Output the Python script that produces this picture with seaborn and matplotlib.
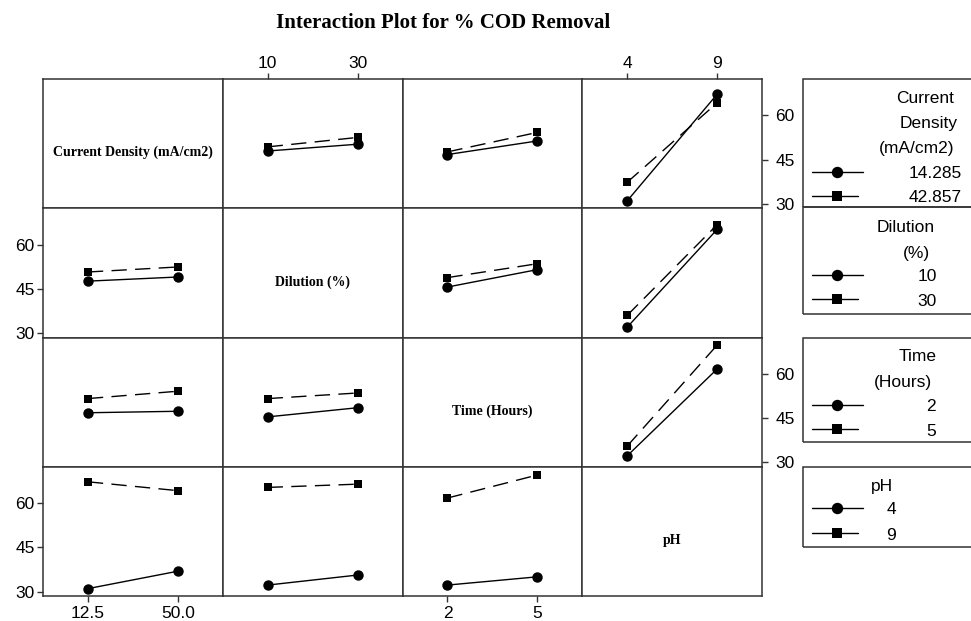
import numpy as np
import pandas as pd
import matplotlib
matplotlib.use("Agg")
import matplotlib.pyplot as plt
import seaborn as sns
from matplotlib.lines import Line2D
from matplotlib.patches import Rectangle

# ---------------- data ----------------
factor_names = ["Current Density (mA/cm2)", "Dilution (%)", "Time (Hours)", "pH"]
legend_titles = [["Current", "Density", "(mA/cm2)"], ["Dilution", "(%)"], ["Time", "(Hours)"], ["pH"]]
level_labels = [["14.285", "42.857"], ["10", "30"], ["2", "5"], ["4", "9"]]
axis_tick_labels = [["12.5", "50.0"], ["10", "30"], ["2", "5"], ["4", "9"]]

# mean % COD removal: rows = trace factor level, columns = x factor level
cd_by_dil = [[47.9, 50.2], [49.3, 52.5]]
cd_by_time = [[46.7, 51.3], [47.6, 54.2]]
cd_by_ph = [[31.0, 67.1], [37.3, 64.2]]
dil_by_cd = [[47.6, 49.0], [50.7, 52.4]]
dil_by_time = [[45.6, 51.5], [48.8, 53.5]]
dil_by_ph = [[32.0, 65.1], [36.0, 66.7]]
time_by_cd = [[46.8, 47.3], [51.6, 54.1]]
time_by_dil = [[45.4, 48.5], [51.6, 53.5]]
time_by_ph = [[32.2, 61.6], [35.5, 69.7]]
ph_by_cd = [[31.0, 36.9], [67.2, 64.2]]
ph_by_dil = [[32.2, 35.6], [65.3, 66.4]]
ph_by_time = [[32.2, 35.0], [61.7, 69.5]]

y_ticks = [30, 45, 60]

panel_means = {
    (0, 1): cd_by_dil, (0, 2): cd_by_time, (0, 3): cd_by_ph,
    (1, 0): dil_by_cd, (1, 2): dil_by_time, (1, 3): dil_by_ph,
    (2, 0): time_by_cd, (2, 1): time_by_dil, (2, 3): time_by_ph,
    (3, 0): ph_by_cd, (3, 1): ph_by_dil, (3, 2): ph_by_time,
}

# ---------------- style ----------------
sns.set_theme(style="white")
plt.rcParams["font.family"] = ["Liberation Sans", "DejaVu Sans"]
SERIF = ["Liberation Serif", "DejaVu Serif"]
FRAME = "#333333"
TXT = 12.5
DASH = (0, (11, 6))

W, H = 971, 621
fig = plt.figure(figsize=(W / 100, H / 100), dpi=100)


def fx(x):
    return x / W


def fy(y):
    return 1 - y / H


gs = fig.add_gridspec(4, 4, left=fx(43), right=fx(762), top=fy(79), bottom=fy(596),
                      wspace=0, hspace=0)

for r in range(4):
    for c in range(4):
        ax = fig.add_subplot(gs[r, c])
        if r == c:
            ax.set_xlim(-0.5, 1.5)
            ax.text(0.5, 0.43, factor_names[r], transform=ax.transAxes, ha="center",
                    va="center", family=SERIF, weight="bold", fontsize=10, color="black")
        else:
            vals = panel_means[(r, c)]
            df = pd.DataFrame({
                "x": [axis_tick_labels[c][j] for i in range(2) for j in range(2)],
                "trace": [level_labels[r][i] for i in range(2) for j in range(2)],
                "value": [vals[i][j] for i in range(2) for j in range(2)],
            })
            sns.pointplot(data=df, x="x", y="value", hue="trace",
                          order=axis_tick_labels[c], hue_order=level_labels[r],
                          palette=["black", "black"], markers=["o", "s"],
                          linestyles=["-", "--"], errorbar=None, legend=False,
                          ax=ax, linewidth=1.0, markersize=7.5, markeredgewidth=0)
            # second trace: long dashes and a slightly smaller square
            for ln in ax.lines:
                if ln.get_marker() == "s":
                    ln.set_markersize(6.2)
                    ln.set_linestyle(DASH)
                    ln.set_dash_capstyle("butt")
        ax.set_xlim(-0.5, 1.5)
        ax.set_ylim(28.5, 72.3)
        ax.set_yticks(y_ticks)
        ax.set_yticklabels([str(v) for v in y_ticks])
        ax.set_xticks([0, 1])
        ax.set_xticklabels(axis_tick_labels[c])
        ax.set_xlabel("")
        ax.set_ylabel("")
        ax.grid(False)
        for sp in ax.spines.values():
            sp.set_visible(True)
            sp.set_color(FRAME)
            sp.set_linewidth(1.1)
        ax.tick_params(axis="both", which="both", bottom=False, top=False, left=False,
                       right=False, labelbottom=False, labeltop=False, labelleft=False,
                       labelright=False, colors="black", width=1.0, length=4.5,
                       labelsize=TXT)
        ax.tick_params(color=FRAME)
        if r == 0 and c in (1, 3):
            ax.tick_params(axis="x", top=True, labeltop=True, pad=1)
        if r == 3 and c in (0, 2):
            ax.tick_params(axis="x", bottom=True, labelbottom=True, pad=3)
        if c == 0 and r in (1, 3):
            ax.tick_params(axis="y", left=True, labelleft=True, pad=1.5)
        if c == 3 and r in (0, 2):
            ax.tick_params(axis="y", right=True, labelright=True, pad=5)

# ---------------- title ----------------
fig.text(fx(443), fy(28.3), "Interaction Plot for % COD Removal", ha="center",
         va="baseline", family=SERIF, weight="bold", fontsize=15, color="black")

# ---------------- legend blocks ----------------
legend_layout = [
    # box top, box bottom, title rights, title centres, level right, level centres
    (79, 207.3, [954, 958, 954], [96.7, 121.7, 147.3], 962, [171.7, 196.0]),
    (207.3, 314.3, [935, 930], [226.0, 251.7], 937, [275.0, 299.3]),
    (338.3, 442.3, [937, 932], [355.0, 381.0], 936, [405.0, 429.3]),
    (466.7, 546.7, [893], [485.0], 896, [508.3, 533.3]),
]
cap_half = 6.2
for k, (top, bot, t_right, t_ys, l_right, l_ys) in enumerate(legend_layout):
    fig.patches.append(Rectangle((fx(803.3), fy(bot)), fx(1010) - fx(803.3), fy(top) - fy(bot),
                                 transform=fig.transFigure, fill=False, edgecolor=FRAME,
                                 linewidth=1.1, clip_on=False))
    for line_txt, xr, yc in zip(legend_titles[k], t_right, t_ys):
        fig.text(fx(xr), fy(yc + cap_half), line_txt, ha="right", va="baseline",
                 fontsize=TXT, color="black")
    for i, (lab, yc) in enumerate(zip(level_labels[k], l_ys)):
        marker, ms, x_end = ("o", 8.2, 863) if i == 0 else ("s", 6.8, 858)
        fig.lines.append(Line2D([fx(812), fx(837), fx(x_end)], [fy(yc)] * 3,
                                transform=fig.transFigure, color="black", linewidth=1.0,
                                marker=marker, markersize=ms, markevery=[1],
                                markeredgewidth=0))
        fig.text(fx(l_right), fy(yc + cap_half), lab, ha="right", va="baseline",
                 fontsize=TXT, color="black")

fig.savefig("out.png", dpi=100, facecolor="white")
